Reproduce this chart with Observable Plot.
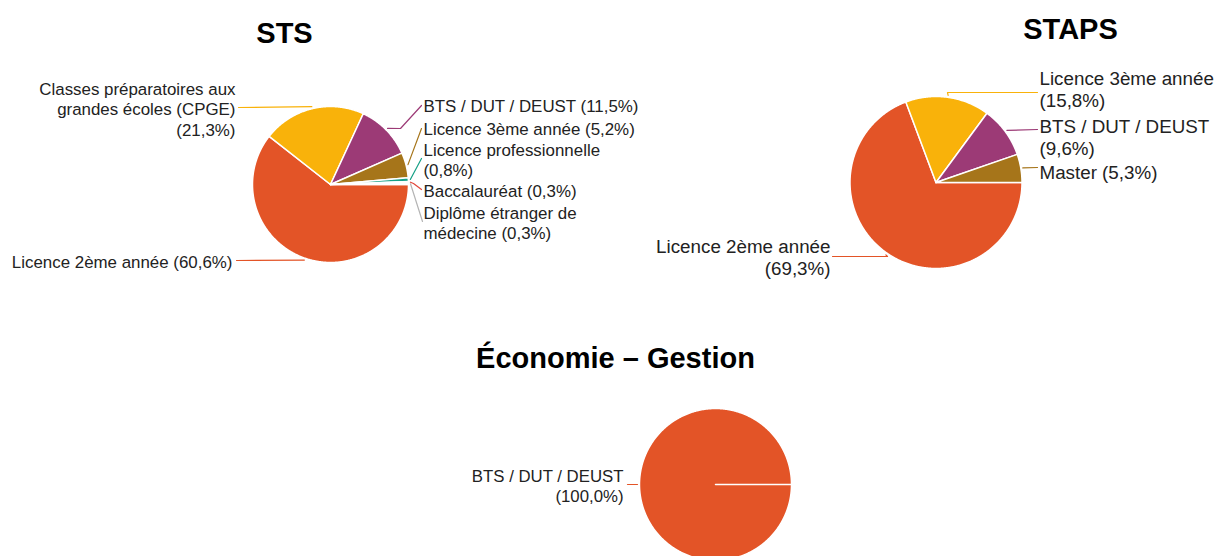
<!DOCTYPE html>
<html>
<head>
<meta charset="utf-8">
<script src="https://cdn.jsdelivr.net/npm/d3@7"></script>
<script src="https://cdn.jsdelivr.net/npm/@observablehq/plot@0.6"></script>
<style>
  html, body { margin: 0; padding: 0; background: #fff; }
  #chart svg { display: block; }
</style>
</head>
<body>
<div id="chart"></div>
<script>
// ---------------- DATA ----------------
const titles = ["STS", "STAPS", "Économie – Gestion"];

const stsCategories = [
  "Licence 2ème année",
  "Classes préparatoires aux grandes écoles (CPGE)",
  "BTS / DUT / DEUST",
  "Licence 3ème année",
  "Licence professionnelle",
  "Baccalauréat",
  "Diplôme étranger de médecine"
];
const stsValues = [60.6, 21.3, 11.5, 5.2, 0.8, 0.3, 0.3];

const stapsCategories = ["Licence 2ème année", "Licence 3ème année", "BTS / DUT / DEUST", "Master"];
const stapsValues = [69.3, 15.8, 9.6, 5.3];

const ecoCategories = ["BTS / DUT / DEUST"];
const ecoValues = [100.0];

// ---------------- STYLE / LAYOUT ----------------
const W = 1221, H = 556;
const palette = ["#e35427", "#f9b20a", "#9c3a76", "#a6751a", "#16a086", "#e2463a", "#b4b4b4"];
const FONT = "'Liberation Sans', Arial, sans-serif";
const TITLE_SIZE = 29;

const layouts = [
  { // STS
    cx: 330, cy: 184, r: 78, titleX: 284, titleY: 33, fontSize: 16.9, lineH: 1.21,
    labels: [
      {x: 232, y: 261, anchor: "end",   wrap: 40, lead: [[236, 260]]},
      {x: 235, y: 88,  anchor: "end",   wrap: 26, lead: [[238, 107]]},
      {x: 423, y: 105, anchor: "start", wrap: 40, lead: [[400, 128], [421, 105]]},
      {x: 423, y: 128, anchor: "start", wrap: 40, lead: [[421, 128]]},
      {x: 423, y: 149, anchor: "start", wrap: 24, lead: [[421, 158]]},
      {x: 423, y: 190, anchor: "start", wrap: 40, lead: [[413, 183], [421, 189]]},
      {x: 423, y: 212, anchor: "start", wrap: 22, lead: [[422, 221]]}
    ]
  },
  { // STAPS
    cx: 935.5, cy: 182, r: 86, titleX: 1070, titleY: 29, fontSize: 18.8, lineH: 1.17,
    labels: [
      {x: 830,  y: 245, anchor: "end",   wrap: 20, lead: [[887, 256], [832, 256]]},
      {x: 1039, y: 77,  anchor: "start", wrap: 20, lead: [[947, 92], [1037, 92]]},
      {x: 1039, y: 125, anchor: "start", wrap: 20, lead: [[1037, 129]]},
      {x: 1039, y: 171, anchor: "start", wrap: 20, lead: [[1037, 167]]}
    ]
  },
  { // Économie – Gestion
    cx: 715, cy: 484, r: 76, titleX: 615, titleY: 358, fontSize: 16.8, lineH: 1.21,
    labels: [
      {x: 623, y: 475, anchor: "end", wrap: 20, lead: [[627, 484]]}
    ]
  }
];

// ---------------- BUILD ----------------
const fmt = v => `(${v.toFixed(1).replace(".", ",")}%)`;
function wrap(text, max) {
  const words = text.split(" ");
  const lines = [];
  let cur = "";
  for (const w of words) {
    if (cur && (cur + " " + w).length > max) { lines.push(cur); cur = w; }
    else cur = cur ? cur + " " + w : w;
  }
  if (cur) lines.push(cur);
  return lines;
}

const pies = [
  {cats: stsCategories, vals: stsValues},
  {cats: stapsCategories, vals: stapsValues},
  {cats: ecoCategories, vals: ecoValues}
];

const slicePts = [], leaderPts = [], titleRows = [];
const labelGroups = [];
pies.forEach((p, pi) => {
  const L = layouts[pi];
  titleRows.push({x: L.titleX, y: L.titleY, text: titles[pi]});
  const arcs = d3.pie().sort(null)
    .startAngle(Math.PI / 2).endAngle(Math.PI / 2 + 2 * Math.PI)(p.vals);
  const rows = [];
  arcs.forEach((a, i) => {
    const key = `${pi}-${i}`;
    const color = palette[i];
    slicePts.push({key, color, x: L.cx, y: L.cy});
    const span = a.endAngle - a.startAngle;
    const n = Math.max(2, Math.ceil(span / (Math.PI / 360)));
    for (let k = 0; k <= n; k++) {
      const t = a.startAngle + span * k / n;
      slicePts.push({key, color, x: L.cx + L.r * Math.sin(t), y: L.cy - L.r * Math.cos(t)});
    }
    slicePts.push({key, color, x: L.cx, y: L.cy});

    // leader line from the slice's mid-angle
    const lab = L.labels[i];
    const mid = (a.startAngle + a.endAngle) / 2;
    const rr = L.r + 2;
    leaderPts.push({key, color, x: L.cx + rr * Math.sin(mid), y: L.cy - rr * Math.cos(mid)});
    lab.lead.forEach(([x, y]) => leaderPts.push({key, color, x, y}));

    const lines = wrap(`${p.cats[i]} ${fmt(p.vals[i])}`, lab.wrap);
    const lh = L.fontSize * L.lineH;
    rows.push({
      x: lab.x, y: lab.y + (lines.length - 1) * lh / 2,
      anchor: lab.anchor, text: lines.join("\n")
    });
  });
  labelGroups.push({rows, fontSize: L.fontSize, lineH: L.lineH});
});

const labelMarks = labelGroups.flatMap(g => ["start", "end"].map(anchor =>
  Plot.text(g.rows.filter(d => d.anchor === anchor), {x: "x", y: "y", text: "text",
    textAnchor: anchor, lineAnchor: "middle", lineHeight: g.lineH,
    fontSize: g.fontSize, fill: "#222", fontFamily: FONT})
));

const chart = Plot.plot({
  width: W, height: H,
  margin: 0,
  x: {domain: [0, W], range: [0, W], axis: null},
  y: {domain: [0, H], range: [0, H], axis: null},
  color: {type: "identity"},
  style: {background: "#fff", fontFamily: FONT},
  marks: [
    Plot.line(slicePts, {x: "x", y: "y", z: "key", fill: "color", stroke: "#fff",
      strokeWidth: 1.5, strokeLinejoin: "round", curve: "linear"}),
    Plot.line(leaderPts, {x: "x", y: "y", z: "key", stroke: "color", strokeWidth: 1.2, curve: "linear"}),
    ...labelMarks,
    Plot.text(titleRows, {x: "x", y: "y", text: "text", textAnchor: "middle",
      lineAnchor: "middle", fontSize: TITLE_SIZE, fontWeight: "bold", fill: "#000", fontFamily: FONT})
  ]
});
document.getElementById("chart").appendChild(chart);
</script>
</body>
</html>
